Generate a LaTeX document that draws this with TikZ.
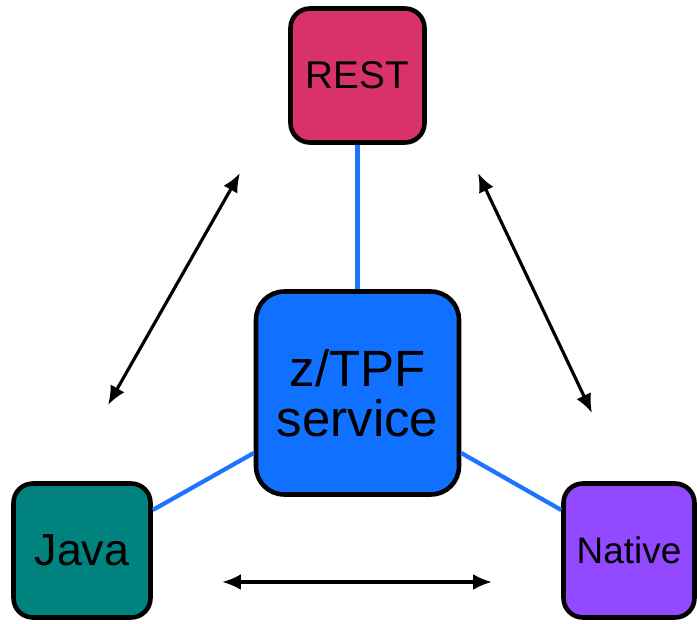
\documentclass[tikz,border=0pt]{standalone}
\usepackage{fontspec}
\setmainfont{Liberation Sans}
\usetikzlibrary{arrows.meta}
\definecolor{restcol}{HTML}{D83269}
\definecolor{svccol}{HTML}{1070FF}
\definecolor{javacol}{HTML}{00827E}
\definecolor{natcol}{HTML}{9249FF}
\definecolor{linkcol}{HTML}{1C74FF}
\begin{document}
\begin{tikzpicture}[x=0.02cm,y=-0.02cm]
    \tikzstyle{box}=[draw=black, line width=2.6pt, rounded corners=11pt, inner sep=0pt, align=center]
    \tikzstyle{link}=[draw=linkcol, line width=2.4pt]
    \tikzstyle{flow}=[line width=1.8pt, {Latex[length=0.38cm,width=0.32cm]}-{Latex[length=0.38cm,width=0.32cm]}]
    \useasboundingbox (0,0) rectangle (697,623);

    \node[box, fill=svccol, minimum width=4.06cm, minimum height=4.06cm, rounded corners=16pt, font=\fontsize{29}{28.5}\selectfont] (svc) at (357.5,393) {z/TPF\\service};
    \node[box, fill=restcol, minimum width=2.68cm, minimum height=2.68cm, font=\fontsize{22}{26}\selectfont] (rest) at (357.5,75.5) {REST};
    \node[box, fill=javacol, minimum width=2.74cm, minimum height=2.68cm, font=\fontsize{25.5}{30}\selectfont] (java) at (82,550.5) {Java};
    \node[box, fill=natcol, minimum width=2.62cm, minimum height=2.68cm, font=\fontsize{21}{24}\selectfont] (native) at (629,550.5) {Native};

    \path[link] (rest) -- (svc);
    \path[link] (java.east |- 0,510) -- (svc.west |- 0,453);
    \path[link] (svc.east |- 0,453) -- (native.west |- 0,510);

    \coordinate (a1) at (240,173);
    \coordinate (a2) at (108,405);
    \coordinate (b1) at (478,173);
    \coordinate (b2) at (592,413);
    \coordinate (c1) at (222,582);
    \coordinate (c2) at (492,582);
    \draw[flow] (a1) -- (a2);
    \draw[flow] (b1) -- (b2);
    \draw[flow] (c1) -- (c2);
  \end{tikzpicture}
\end{document}
